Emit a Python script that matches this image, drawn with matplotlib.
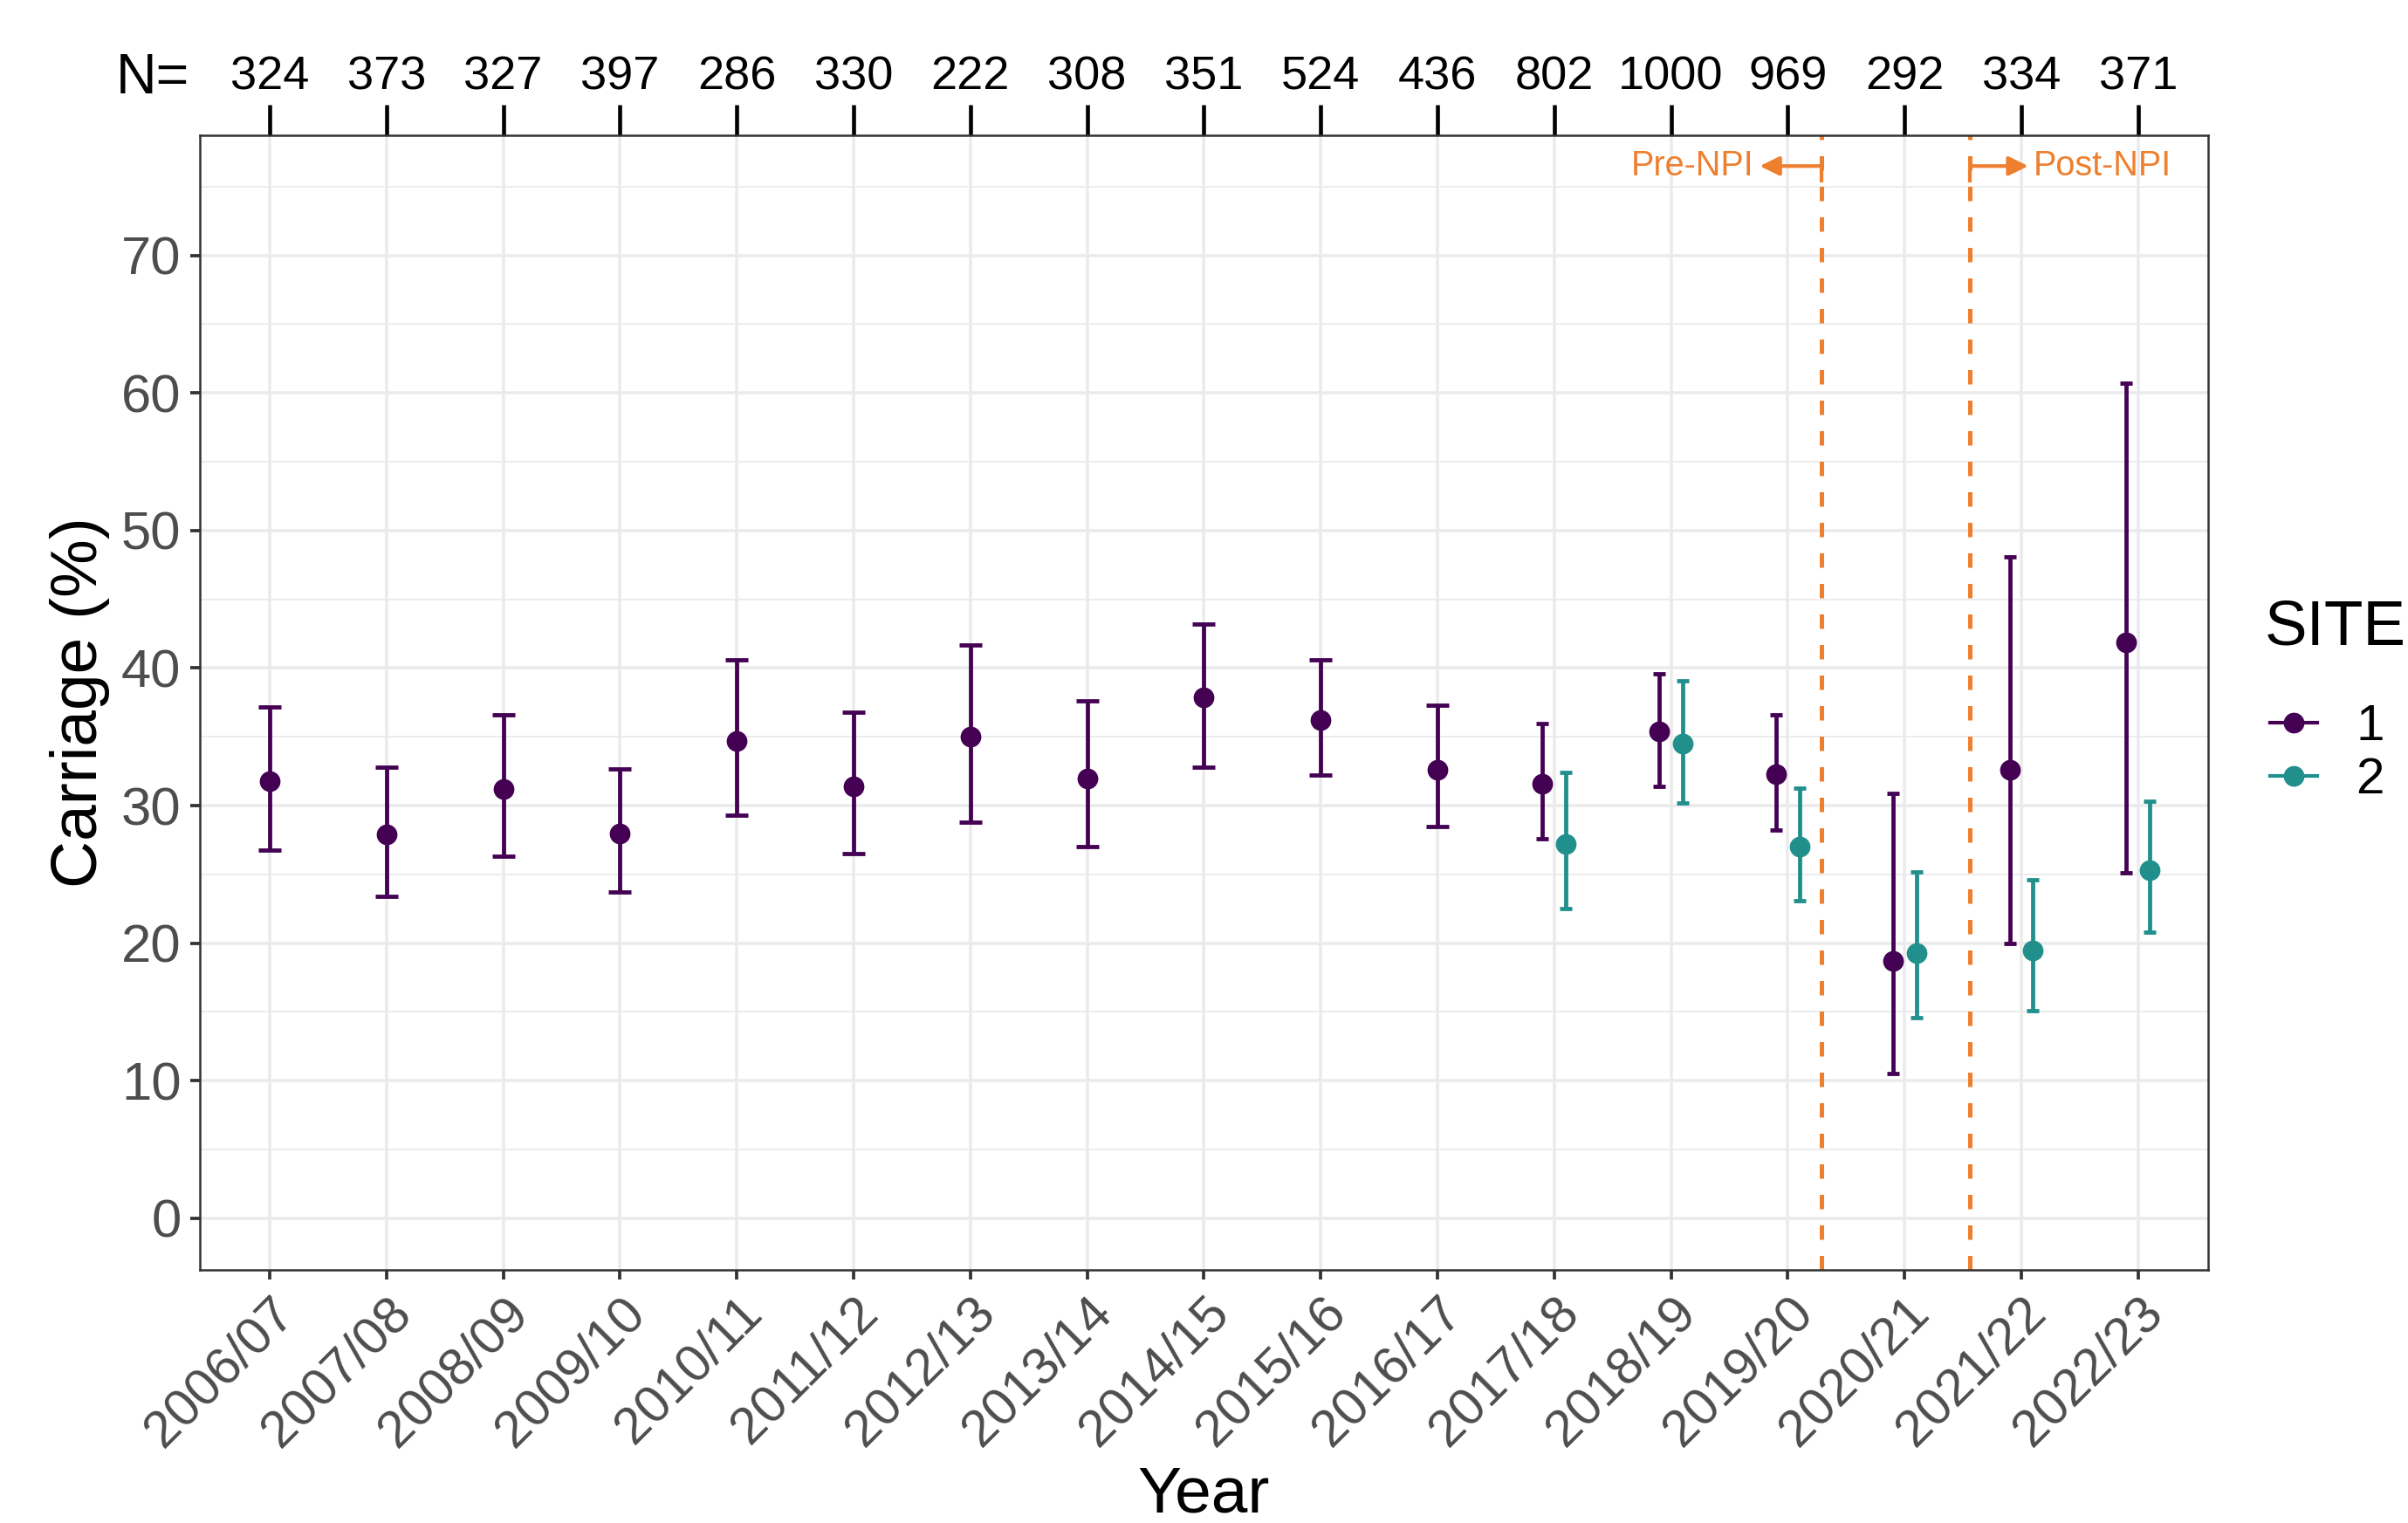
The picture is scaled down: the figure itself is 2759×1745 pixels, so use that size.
import numpy as np
import matplotlib
matplotlib.use("Agg")
import matplotlib.pyplot as plt
from matplotlib.lines import Line2D

plt.rcParams['font.family'] = ['Liberation Sans', 'DejaVu Sans']

# ---------------- data ----------------
years = ['2006/07', '2007/08', '2008/09', '2009/10', '2010/11', '2011/12', '2012/13',
         '2013/14', '2014/15', '2015/16', '2016/17', '2017/18', '2018/19', '2019/20',
         '2020/21', '2021/22', '2022/23']
n_samples = [324, 373, 327, 397, 286, 330, 222, 308, 351, 524, 436, 802, 1000, 969,
             292, 334, 371]

site1_est = [31.8, 27.9, 31.2, 28.0, 34.7, 31.4, 35.0, 32.0, 37.9, 36.2, 32.6, 31.6,
             35.4, 32.3, 18.7, 32.6, 41.9]
site1_lo = [26.8, 23.4, 26.3, 23.7, 29.3, 26.5, 28.8, 27.0, 32.8, 32.2, 28.5, 27.6,
            31.4, 28.2, 10.5, 20.0, 25.1]
site1_hi = [37.2, 32.8, 36.6, 32.7, 40.6, 36.8, 41.7, 37.6, 43.2, 40.6, 37.3, 36.0,
            39.6, 36.6, 30.9, 48.1, 60.7]

site2_years = ['2017/18', '2018/19', '2019/20', '2020/21', '2021/22', '2022/23']
site2_est = [27.2, 34.5, 27.0, 19.3, 19.5, 25.3]
site2_lo = [22.5, 30.2, 23.1, 14.6, 15.1, 20.8]
site2_hi = [32.4, 39.1, 31.3, 25.2, 24.6, 30.3]

npi_start = 14.29
npi_end = 15.56

# ---------------- style ----------------
C1 = '#440154'
C2 = '#21908C'
ORANGE = '#EE7F2E'
GRID = '#EBEBEB'
TICKGRAY = '#4D4D4D'
MS = 4.7
ELW = 1.15

fig = plt.figure(figsize=(2759 / 300, 1745 / 300), dpi=300)
ax = fig.add_axes([0.0829, 0.1662, 0.917 - 0.0829, 0.9113 - 0.1662])

xpos = np.arange(1, len(years) + 1)
has2 = np.array([y in site2_years for y in years])
dodge = 0.1

x1 = xpos - np.where(has2, dodge, 0.0)
s1e = np.array(site1_est); s1l = np.array(site1_lo); s1h = np.array(site1_hi)

# site 1 single-group years (wider caps)
m = ~has2
ax.errorbar(x1[m], s1e[m], yerr=[s1e[m] - s1l[m], s1h[m] - s1e[m]], fmt='o',
            color=C1, ms=MS, elinewidth=ELW, capsize=3.2, capthick=ELW, zorder=3)
# site 1 dodged years (narrower caps)
m = has2
ax.errorbar(x1[m], s1e[m], yerr=[s1e[m] - s1l[m], s1h[m] - s1e[m]], fmt='o',
            color=C1, ms=MS, elinewidth=ELW, capsize=1.6, capthick=ELW, zorder=3)

x2 = np.array([years.index(y) + 1 for y in site2_years]) + dodge
s2e = np.array(site2_est); s2l = np.array(site2_lo); s2h = np.array(site2_hi)
ax.errorbar(x2, s2e, yerr=[s2e - s2l, s2h - s2e], fmt='o', color=C2, ms=MS,
            elinewidth=ELW, capsize=1.6, capthick=ELW, zorder=3)

# NPI lines
for xv in (npi_start, npi_end):
    ax.axvline(xv, color=ORANGE, lw=1.2, ls=(0, (3.3, 3.7)), zorder=2)

ax.plot([npi_start, npi_start], [75.3, 76.5], color=ORANGE, lw=1.0, zorder=2,
        solid_capstyle='butt')
ax.plot([npi_end, npi_end], [75.3, 76.5], color=ORANGE, lw=1.0, zorder=2,
        solid_capstyle='butt')
ax.annotate('', xy=(13.76, 76.5), xytext=(npi_start, 76.5),
            arrowprops=dict(arrowstyle='-|>,head_length=0.45,head_width=0.22',
                            color=ORANGE, lw=1.0, shrinkA=0, shrinkB=0))
ax.annotate('', xy=(16.06, 76.5), xytext=(npi_end, 76.5),
            arrowprops=dict(arrowstyle='-|>,head_length=0.45,head_width=0.22',
                            color=ORANGE, lw=1.0, shrinkA=0, shrinkB=0))
ax.text(13.71, 76.5, 'Pre-NPI', ha='right', va='center', color=ORANGE, fontsize=9.5)
ax.text(16.10, 76.5, 'Post-NPI', ha='left', va='center', color=ORANGE, fontsize=9.5)

# axes
ax.set_xlim(0.4, 17.6)
ax.set_ylim(-3.75, 78.75)
ax.set_yticks(np.arange(0, 80, 10))
ax.set_yticks(np.arange(5, 80, 10), minor=True)
ax.set_xticks(xpos)
ax.set_xticklabels(years, rotation=45, ha='right', va='top', rotation_mode='anchor')
ax.tick_params(axis='both', which='major', colors='#333333', length=2.7, width=0.9,
               labelcolor=TICKGRAY, pad=2.4)
ax.tick_params(axis='x', which='major', labelsize=14.3)
ax.tick_params(axis='y', which='major', labelsize=14.8)
ax.tick_params(axis='y', which='minor', length=0)
ax.grid(which='major', color=GRID, lw=0.85)
ax.grid(which='minor', axis='y', color=GRID, lw=0.45)
ax.set_axisbelow(True)
for s in ax.spines.values():
    s.set_color('#333333')
    s.set_linewidth(0.6)

ax.set_xlabel('Year', fontsize=18)
ax.xaxis.set_label_coords(0.5, -0.172)
ax.set_ylabel('Carriage (%)', fontsize=18)
ax.yaxis.set_label_coords(-0.0445, 0.5)

# top axis with sample sizes
sec = ax.secondary_xaxis('top')
sec.set_xticks(xpos)
sec.set_xticklabels([str(n) for n in n_samples])
sec.tick_params(length=8.4, width=1.1, color='black', labelsize=13, labelcolor='black',
                pad=1.6)
sec.spines['top'].set_visible(False)
ax.text(-0.005, 1.0365, 'N=', transform=ax.transAxes, ha='right', va='baseline',
        fontsize=15.5, color='black')

# legend
fig.text(0.9405, 0.5872, 'SITE', ha='left', va='center', fontsize=17.5, color='black')
handles = [Line2D([0], [0], color=C1, marker='o', ms=MS, lw=1.0),
           Line2D([0], [0], color=C2, marker='o', ms=MS, lw=1.0)]
fig.legend(handles, ['1', '2'], loc='center left',
           bbox_to_anchor=(0.9428, 0.5050), frameon=False, fontsize=14,
           handlelength=0.93, handletextpad=0.75,
           labelspacing=0.12, borderpad=0, borderaxespad=0)

fig.savefig('out.png', dpi=300)
